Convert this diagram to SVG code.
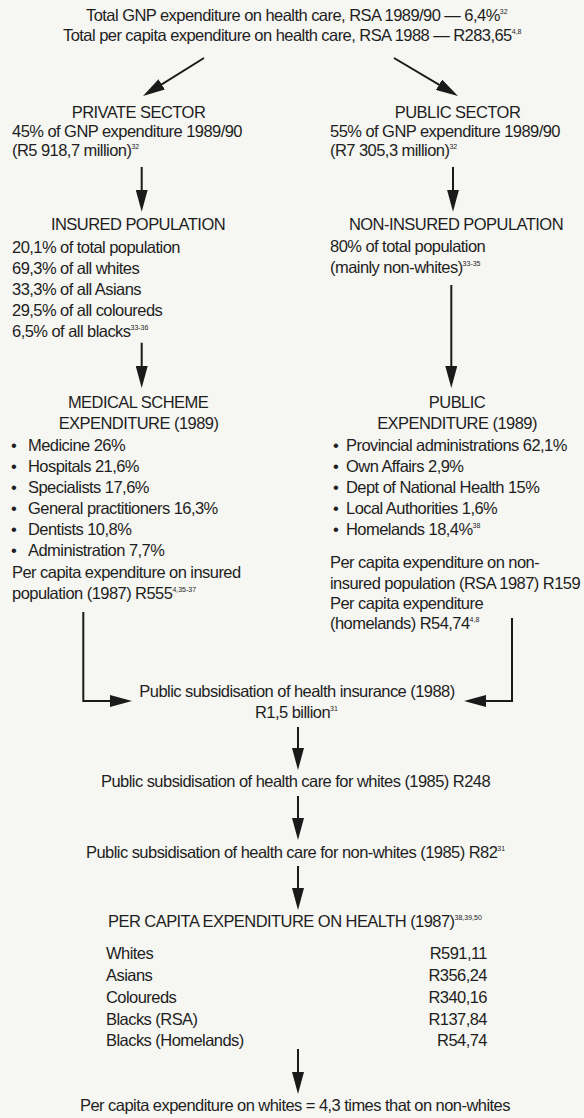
<svg xmlns="http://www.w3.org/2000/svg" width="584" height="1118" viewBox="0 0 584 1118">
<style>
text{font-family:"Liberation Sans",Arial,sans-serif;font-size:16.5px;letter-spacing:-0.55px;fill:#1e1e1e}
.c{text-anchor:middle}
.s{font-size:7px;letter-spacing:0}
.ln{stroke:#1a1a1a;stroke-width:2;fill:none;marker-end:url(#ah)}
</style>
<defs>
<marker id="ah" markerUnits="userSpaceOnUse" markerWidth="22" markerHeight="12" viewBox="0 0 22 12" refX="16" refY="6" orient="auto">
<path d="M0,0 L22,6 L0,12 Z" fill="#1a1a1a"/>
</marker>
</defs>
<rect width="584" height="1118" fill="#f6f6f2"/>
<g id="connectors">
<line class="ln" x1="204" y1="58" x2="148.1" y2="92.8"/>
<line class="ln" x1="394" y1="58" x2="452.8" y2="92.9"/>
<line class="ln" x1="141.7" y1="167" x2="141.7" y2="205.7"/>
<line class="ln" x1="453" y1="167" x2="453" y2="205.7"/>
<line class="ln" x1="141.7" y1="342.7" x2="141.7" y2="382"/>
<line class="ln" x1="451.3" y1="285" x2="451.3" y2="382"/>
<polyline class="ln" points="83.3,612 83.3,701 126,701"/>
<polyline class="ln" points="512,618 512,701 470,701"/>
<line class="ln" x1="298" y1="727" x2="298" y2="764"/>
<line class="ln" x1="298" y1="796" x2="298" y2="834"/>
<line class="ln" x1="298" y1="866" x2="298" y2="904"/>
<line class="ln" x1="298" y1="1049" x2="298" y2="1088"/>
</g>
<g id="n-total">
<text x="86" y="21">Total GNP expenditure on health care, RSA 1989/90 — 6,4%<tspan class="s" dy="-7">32</tspan></text>
<text x="63" y="41">Total per capita expenditure on health care, RSA 1988 — R283,65<tspan class="s" dy="-7">4,8</tspan></text>
</g>
<g id="n-private">
<text class="c" x="138.5" y="118.3">PRIVATE SECTOR</text>
<text x="12" y="136.7">45% of GNP expenditure 1989/90</text>
<text x="12" y="155.6">(R5 918,7 million)<tspan class="s" dy="-7">32</tspan></text>
</g>
<g id="n-public">
<text class="c" x="457.5" y="118.3">PUBLIC SECTOR</text>
<text x="330" y="136.5">55% of GNP expenditure 1989/90</text>
<text x="330" y="155.6">(R7 305,3 million)<tspan class="s" dy="-7">32</tspan></text>
</g>
<g id="n-insured">
<text class="c" x="138" y="230">INSURED POPULATION</text>
<text x="12" y="253">20,1% of total population</text>
<text x="12" y="274">69,3% of all whites</text>
<text x="12" y="295">33,3% of all Asians</text>
<text x="12" y="316">29,5% of all coloureds</text>
<text x="12" y="336.7">6,5% of all blacks<tspan class="s" dy="-7">33-36</tspan></text>
</g>
<g id="n-noninsured">
<text class="c" x="456" y="230">NON-INSURED POPULATION</text>
<text x="330" y="252">80% of total population</text>
<text x="330" y="273">(mainly non-whites)<tspan class="s" dy="-7">33-35</tspan></text>
</g>
<g id="n-medscheme">
<text class="c" x="138" y="407.7">MEDICAL SCHEME</text>
<text class="c" x="138.5" y="429">EXPENDITURE (1989)</text>
<text x="11" y="450.7">•</text><text x="28" y="450.7">Medicine 26%</text>
<text x="11" y="471.5">•</text><text x="28" y="471.5">Hospitals 21,6%</text>
<text x="11" y="492.7">•</text><text x="28" y="492.7">Specialists 17,6%</text>
<text x="11" y="514">•</text><text x="28" y="514">General practitioners 16,3%</text>
<text x="11" y="535">•</text><text x="28" y="535">Dentists 10,8%</text>
<text x="11" y="556">•</text><text x="28" y="556">Administration 7,7%</text>
<text x="12" y="578">Per capita expenditure on insured</text>
<text x="12" y="599.3">population (1987) R555<tspan class="s" dy="-7">4,35-37</tspan></text>
</g>
<g id="n-pubexp">
<text class="c" x="457" y="407.7">PUBLIC</text>
<text class="c" x="457" y="429">EXPENDITURE (1989)</text>
<text x="333" y="450.7">•</text><text x="346" y="450.7">Provincial administrations 62,1%</text>
<text x="333" y="471.5">•</text><text x="346" y="471.5">Own Affairs 2,9%</text>
<text x="333" y="492.7">•</text><text x="346" y="492.7">Dept of National Health 15%</text>
<text x="333" y="514">•</text><text x="346" y="514">Local Authorities 1,6%</text>
<text x="333" y="535">•</text><text x="346" y="535">Homelands 18,4%<tspan class="s" dy="-7">38</tspan></text>
<text x="330" y="567.7">Per capita expenditure on non-</text>
<text x="330" y="588.7">insured population (RSA 1987) R159</text>
<text x="330" y="608.7">Per capita expenditure</text>
<text x="330" y="629">(homelands) R54,74<tspan class="s" dy="-7">4,8</tspan></text>
</g>
<g id="n-subsid-insurance">
<text class="c" x="297" y="696.7">Public subsidisation of health insurance (1988)</text>
<text x="255" y="717.5">R1,5 billion<tspan class="s" dy="-7">31</tspan></text>
</g>
<g id="n-subsid-whites">
<text x="101" y="787">Public subsidisation of health care for whites (1985) R248</text>
</g>
<g id="n-subsid-nonwhites">
<text x="86" y="857.7">Public subsidisation of health care for non-whites (1985) R82<tspan class="s" dy="-7">31</tspan></text>
</g>
<g id="n-percapita">
<text x="108" y="927">PER CAPITA EXPENDITURE ON HEALTH (1987)<tspan class="s" dy="-7">38,39,50</tspan></text>
<text x="106" y="959">Whites</text><text x="487" y="959" text-anchor="end">R591,11</text>
<text x="106" y="981">Asians</text><text x="487" y="981" text-anchor="end">R356,24</text>
<text x="106" y="1003">Coloureds</text><text x="487" y="1003" text-anchor="end">R340,16</text>
<text x="106" y="1024.5">Blacks (RSA)</text><text x="487" y="1024.5" text-anchor="end">R137,84</text>
<text x="106" y="1046">Blacks (Homelands)</text><text x="487" y="1046" text-anchor="end">R54,74</text>
</g>
<g id="n-ratio">
<text x="80" y="1111">Per capita expenditure on whites = 4,3 times that on non-whites</text>
</g>
</svg>
